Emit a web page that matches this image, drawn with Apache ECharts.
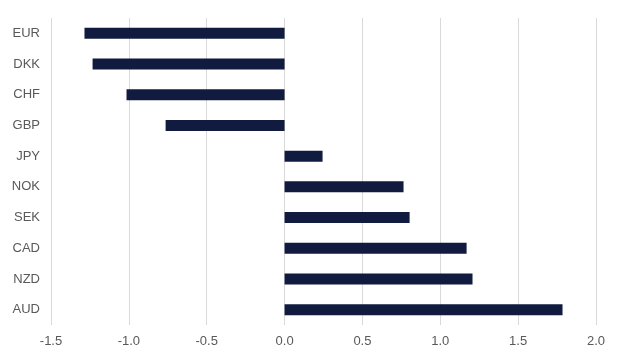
<!DOCTYPE html>
<html><head><meta charset="utf-8">
<script src="https://cdn.jsdelivr.net/npm/echarts@6/dist/echarts.min.js"></script>
<style>html,body{margin:0;padding:0;background:#fff}#c{width:624px;height:360px}</style>
</head><body><div id="c"></div>
<script>
var categories = ['EUR','DKK','CHF','GBP','JPY','NOK','SEK','CAD','NZD','AUD'];
var values = [-1.285, -1.233, -1.015, -0.764, 0.244, 0.764, 0.803, 1.169, 1.207, 1.785];
var xTicks = {min: -1.5, max: 2.0, interval: 0.5};

var chart = echarts.init(document.getElementById('c'), null, {renderer: 'canvas'});
chart.setOption({
  animation: false,
  backgroundColor: '#ffffff',
  grid: {left: 51, right: 28, top: 18, bottom: 35, containLabel: false},
  xAxis: {
    type: 'value', min: xTicks.min, max: xTicks.max, interval: xTicks.interval,
    axisLine: {show: false}, axisTick: {show: false},
    splitLine: {show: true, lineStyle: {color: '#d9d9d9', width: 1}},
    axisLabel: {color: '#595959', fontSize: 13, fontFamily: 'Arial, Liberation Sans, sans-serif', margin: 10,
      formatter: function(v){ return v.toFixed(1); }}
  },
  yAxis: {
    type: 'category', data: categories, inverse: true,
    axisLine: {show: false}, axisTick: {show: false}, splitLine: {show: false},
    axisLabel: {color: '#595959', fontSize: 13, fontFamily: 'Arial, Liberation Sans, sans-serif', margin: 11}
  },
  series: [{
    type: 'bar', data: values, barWidth: 11,
    itemStyle: {color: '#111b3f'}
  }]
});
</script></body></html>
